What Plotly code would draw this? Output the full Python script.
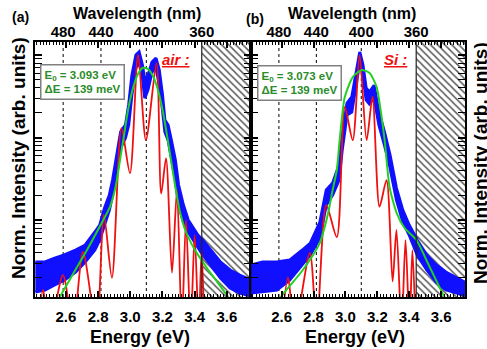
import plotly.graph_objects as go

W, H = 487, 349

# ---------------- data ----------------
# panel (a) : air
E_blue_a = [2.41, 2.47, 2.53, 2.59, 2.66, 2.72, 2.78, 2.81, 2.84, 2.87, 2.89, 2.92, 2.94, 2.97, 2.99,
            3.01, 3.035, 3.055, 3.075, 3.09, 3.11, 3.135, 3.16, 3.18, 3.20, 3.215, 3.235, 3.255, 3.28,
            3.30, 3.33, 3.36, 3.39, 3.42, 3.45, 3.50, 3.56, 3.62, 3.68, 3.75]
blue_hi_a = [0.0031, 0.0031, 0.00346, 0.00377, 0.00433, 0.00498, 0.00716, 0.00869, 0.014, 0.0201,
             0.0305, 0.0705, 0.117, 0.142, 0.25, 0.57, 1.0, 1.09, 0.76, 0.50, 0.57, 0.82, 0.92, 0.66,
             0.33, 0.163, 0.142, 0.093, 0.0533, 0.0266, 0.0152, 0.0100, 0.0080, 0.00658, 0.00573,
             0.00433, 0.0031, 0.00248, 0.00215, 0.00187]
blue_lo_a = [0.00134, 0.00142, 0.00163, 0.00187, 0.00234, 0.0031, 0.00433, 0.00573, 0.00869, 0.0132,
             0.0201, 0.0404, 0.075, 0.099, 0.142, 0.33, 0.70, 0.82, 0.53, 0.30, 0.38, 0.62, 0.70, 0.43,
             0.215, 0.117, 0.093, 0.0565, 0.0305, 0.0152, 0.00946, 0.00716, 0.00573, 0.00458, 0.00377,
             0.00285, 0.00198, 0.0015, 0.0013, 0.0012]
E_red_a = [2.43, 2.458, 2.50, 2.582, 2.645, 2.706, 2.79, 2.836, 2.886, 2.945, 2.998, 3.048, 3.097,
           3.163, 3.192, 3.222, 3.259, 3.29, 3.32, 3.346, 3.375, 3.40, 3.425, 3.443, 3.46]
red_a = [0.0005, 0.00142, 0.0005, 0.00215, 0.0005, 0.0041, 0.0005, 0.0115, 0.002, 0.13, 0.037, 1.0,
         0.093, 0.80, 0.021, 0.056, 0.0023, 0.023, 0.0005, 0.010, 0.0005, 0.0066, 0.0005, 0.0043, 0.0005]
E_green_a = [2.50, 2.563, 2.644, 2.731, 2.812, 2.874, 2.911, 2.936, 2.961, 2.986, 3.017, 3.048, 3.079,
             3.110, 3.141, 3.172, 3.203, 3.228, 3.253, 3.278, 3.309, 3.346, 3.402, 3.476, 3.545, 3.607,
             3.68]
green_a = [0.0006, 0.00117, 0.00221, 0.00433, 0.00846, 0.0144, 0.0266, 0.0533, 0.107, 0.215, 0.398,
           0.589, 0.70, 0.677, 0.556, 0.377, 0.204, 0.107, 0.0533, 0.0266, 0.0125, 0.00716, 0.00433,
           0.00262, 0.00172, 0.00117, 0.0007]

# panel (b) : Si
E_blue_b = [2.41, 2.48, 2.57, 2.65, 2.73, 2.78, 2.84, 2.88, 2.92, 2.96, 2.98, 3.01, 3.04, 3.07, 3.09,
            3.11, 3.13, 3.15, 3.18, 3.21, 3.245, 3.28, 3.32, 3.36, 3.40, 3.45, 3.51, 3.57, 3.63, 3.70, 3.75]
blue_hi_b = [0.00285, 0.0031, 0.0031, 0.00327, 0.00433, 0.00526, 0.00946, 0.0231, 0.0281, 0.0464,
             0.107, 0.262, 0.31, 0.70, 1.09, 0.76, 0.398, 0.356, 0.43, 0.204, 0.117, 0.0614, 0.0244,
             0.0132, 0.00869, 0.00573, 0.00377, 0.00285, 0.00234, 0.00198, 0.00177]
blue_lo_b = [0.0013, 0.00134, 0.00142, 0.00187, 0.00285, 0.00377, 0.00605, 0.0152, 0.0201, 0.0305,
             0.0705, 0.1875, 0.204, 0.50, 0.82, 0.57, 0.285, 0.255, 0.30, 0.142, 0.081, 0.0427, 0.0175,
             0.00946, 0.00658, 0.00377, 0.00248, 0.00177, 0.00142, 0.0013, 0.0012]
E_red_b = [2.60, 2.64, 2.683, 2.777, 2.82, 2.88, 2.946, 2.996, 3.046, 3.089, 3.133, 3.17, 3.214, 3.258,
           3.296, 3.32, 3.352, 3.377, 3.402, 3.42, 3.44]
red_b = [0.0005, 0.0020, 0.0005, 0.004, 0.0005, 0.0152, 0.0062, 0.234, 0.093, 1.0, 0.093, 0.31, 0.0145,
         0.0305, 0.0018, 0.0076, 0.0005, 0.0057, 0.0005, 0.0043, 0.0005]
E_green_b = [2.53, 2.596, 2.733, 2.839, 2.889, 2.92, 2.946, 2.964, 2.996, 3.046, 3.102, 3.152, 3.196,
             3.227, 3.246, 3.277, 3.321, 3.371, 3.446, 3.508, 3.608, 3.67]
green_b = [0.0007, 0.00117, 0.00248, 0.00526, 0.0115, 0.0231, 0.0404, 0.093, 0.31, 0.541, 0.66, 0.605,
           0.41, 0.177, 0.093, 0.0251, 0.0122, 0.0080, 0.00573, 0.00327, 0.0013, 0.0008]

wavelength_ticks = [480, 440, 400, 360]
dotted_wavelengths = [480, 440, 400]
cutoff_wavelength = 360
energy_ticks = [2.6, 2.8, 3.0, 3.2, 3.4, 3.6]
fit_labels = ["E<sub>0</sub> = 3.093 eV<br>\u0394E = 139 meV", "E<sub>0</sub> = 3.073 eV<br>\u0394E = 139 meV"]
env_labels = ["air :", "Si :"]
panel_labels = ["(a)", "(b)"]

# ---------------- style ----------------
FONT = "Liberation Sans, Arial, sans-serif"
BLUE = "#1010ff"
RED = "#f01010"
GREEN = "#22d022"
XR = [2.408, 3.75]
YR = [-2.933, 0.158]
HC = 1239.84


def px(x):
    return x / W


def py(y):
    return 1 - y / H


fig = go.Figure()

panels = [
    dict(x="x", y="y", E_b=E_blue_a, hi=blue_hi_a, lo=blue_lo_a, Er=E_red_a, r=red_a, Eg=E_green_a, g=green_a),
    dict(x="x2", y="y2", E_b=E_blue_b, hi=blue_hi_b, lo=blue_lo_b, Er=E_red_b, r=red_b, Eg=E_green_b, g=green_b),
]

e_cut = HC / cutoff_wavelength
for p in panels:
    # hatched excluded region
    fig.add_trace(go.Scatter(
        x=[e_cut, XR[1] + 0.05, XR[1] + 0.05, e_cut, e_cut], y=[1e-4, 1e-4, 10, 10, 1e-4],
        xaxis=p["x"], yaxis=p["y"], mode="lines", fill="toself", fillcolor="white",
        line=dict(width=0), fillpattern=dict(shape="\\", fgcolor="#5a5a5a", bgcolor="white", size=5, solidity=0.3),
        hoverinfo="skip", showlegend=False))
    # measured spectrum (noisy band)
    fig.add_trace(go.Scatter(x=p["E_b"], y=p["hi"], xaxis=p["x"], yaxis=p["y"], mode="lines",
                             line=dict(color=BLUE, width=3), showlegend=False))
    fig.add_trace(go.Scatter(x=p["E_b"], y=p["lo"], xaxis=p["x"], yaxis=p["y"], mode="lines",
                             line=dict(color=BLUE, width=3), fill="tonexty", fillcolor=BLUE, showlegend=False))
    # simulation
    fig.add_trace(go.Scatter(x=p["Er"], y=p["r"], xaxis=p["x"], yaxis=p["y"], mode="lines",
                             line=dict(color=RED, width=1.8, shape="spline", smoothing=0.8), showlegend=False))
    # fit
    fig.add_trace(go.Scatter(x=p["Eg"], y=p["g"], xaxis=p["x"], yaxis=p["y"], mode="lines",
                             line=dict(color=GREEN, width=2, shape="spline", smoothing=0.6), showlegend=False))

# invisible traces for the top (wavelength) axes
fig.add_trace(go.Scatter(x=[3.0], y=[0.01], xaxis="x3", yaxis="y", mode="markers",
                         marker=dict(opacity=0), hoverinfo="skip", showlegend=False))
fig.add_trace(go.Scatter(x=[3.0], y=[0.01], xaxis="x4", yaxis="y2", mode="markers",
                         marker=dict(opacity=0), hoverinfo="skip", showlegend=False))

xdom = [[px(35), px(251)], [px(251), px(465)]]
ydom = [py(297), py(42)]

TICKFONT = dict(family=FONT, size=15, color="black", weight="bold")
xcommon = dict(range=XR, showline=True, linecolor="black", linewidth=2, mirror="allticks",
               ticks="inside", ticklen=6, tickwidth=1.5, tickcolor="black", automargin=False,
               tickvals=energy_ticks, ticktext=[f"{v:.1f}" for v in energy_ticks],
               tickfont=TICKFONT, ticklabelstandoff=5,
               minor=dict(ticks="inside", ticklen=3, tickwidth=1, dtick=0.02, tick0=2.4, tickcolor="black"),
               showgrid=False, zeroline=False)
minor_y = [m * 10 ** k for k in range(-4, 1) for m in range(2, 10)]
ycommon = dict(type="log", range=YR, showline=True, linecolor="black", linewidth=2, mirror="allticks",
               ticks="inside", ticklen=7, tickwidth=1.5, tickcolor="black", showticklabels=False,
               tickvals=[0.001, 0.01, 0.1, 1], automargin=False,
               minor=dict(ticks="inside", ticklen=4, tickwidth=1, tickvals=minor_y, tickcolor="black"),
               showgrid=False, zeroline=False)
wl_E = [HC / w for w in wavelength_ticks]
topcommon = dict(range=XR, side="top", showline=False, ticks="", tickvals=wl_E, automargin=False,
                 ticktext=[str(w) for w in wavelength_ticks],
                 tickfont=TICKFONT, ticklabelstandoff=1,
                 showgrid=False, zeroline=False)

fig.update_layout(
    template="none",
    width=W, height=H, margin=dict(l=0, r=0, t=0, b=0, autoexpand=False),
    paper_bgcolor="white", plot_bgcolor="white",
    xaxis=dict(domain=xdom[0], anchor="y", **xcommon),
    xaxis2=dict(domain=xdom[1], anchor="y2", **xcommon),
    yaxis=dict(domain=ydom, anchor="x", **ycommon),
    yaxis2=dict(domain=ydom, anchor="x2", **ycommon),
    xaxis3=dict(overlaying="x", anchor="y", **topcommon),
    xaxis4=dict(overlaying="x2", anchor="y2", **topcommon),
    font=dict(family=FONT),
)

# vertical guide lines
for xr in ["x", "x2"]:
    for w in dotted_wavelengths:
        fig.add_shape(type="line", xref=xr, yref=f"{'y' if xr == 'x' else 'y2'} domain",
                      x0=HC / w, x1=HC / w, y0=0, y1=1, line=dict(color="black", width=1, dash="dot"),
                      layer="below")
    fig.add_shape(type="line", xref=xr, yref=f"{'y' if xr == 'x' else 'y2'} domain",
                  x0=e_cut, x1=e_cut, y0=0, y1=1, line=dict(color="#222", width=1.2), layer="above")


def A(text, x, y, size, color="black", **kw):
    d = dict(text=text, x=px(x), y=py(y), xref="paper", yref="paper", showarrow=False,
             xanchor="center", yanchor="middle", font=dict(family=FONT, size=size, color=color))
    d.update(kw)
    return d


ann = []
centers = [(35 + 251) / 2, (251 + 465) / 2]
for i in range(2):
    ann.append(A("<b>Energy (eV)</b>", centers[i] - 3, 337, 18))
    ann.append(A("<b>Wavelength (nm)</b>", centers[i] - 6, 13, 16))
ann.append(A(f"<b>{panel_labels[0]}</b>", 20, 17, 14))
ann.append(A(f"<b>{panel_labels[1]}</b>", 255, 19, 14))
for xc, yc in [(18, 158), (481, 163)]:
    ann.append(A("<b>Norm. Intensity (arb. units)</b>", xc, yc, 19, textangle=-90))
for i, (xl, yt) in enumerate([(40, 64), (257, 65)]):
    ann.append(A(f"<b>{fit_labels[i]}</b>", xl, yt, 11.5, color="#2a8c2a", xanchor="left", yanchor="top",
                 align="left", bordercolor="#808080", borderwidth=1.5, borderpad=3, bgcolor="white"))
for i, (xc, yc) in enumerate([(176, 59), (395, 59)]):
    ann.append(A(f"<b><i><u>{env_labels[i]}</u></i></b>", xc, yc, 15, color=RED))
fig.update_layout(annotations=ann)

fig.write_html("out.html")
